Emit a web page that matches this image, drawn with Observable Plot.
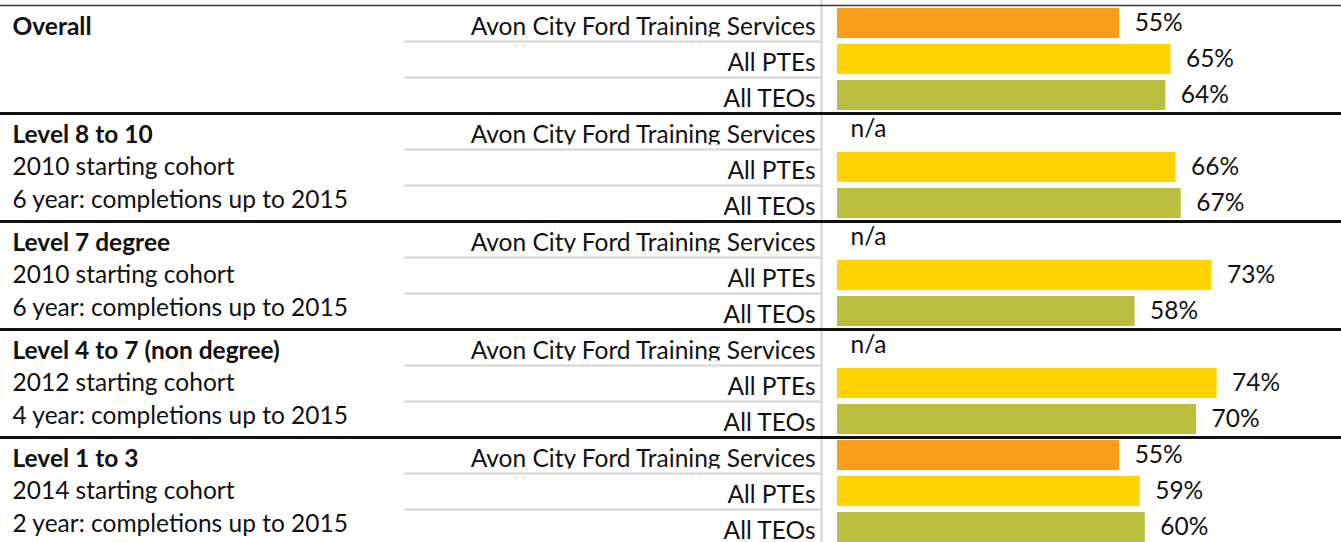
<!DOCTYPE html>
<html>
<head>
<meta charset="utf-8">
<script src="https://cdn.jsdelivr.net/npm/d3@7"></script>
<script src="https://cdn.jsdelivr.net/npm/@observablehq/plot@0.6"></script>
<style>
  html, body { margin: 0; padding: 0; background: #fff; overflow: hidden; }
  svg { display: block; }
</style>
</head>
<body>
<div id="chart"></div>
<script>
// ---- data ----
const groupTitles = ["Overall", "Level 8 to 10", "Level 7 degree", "Level 4 to 7 (non degree)", "Level 1 to 3"];
const groupCohorts = ["", "2010 starting cohort", "2010 starting cohort", "2012 starting cohort", "2014 starting cohort"];
const groupWindows = ["", "6 year: completions up to 2015", "6 year: completions up to 2015", "4 year: completions up to 2015", "2 year: completions up to 2015"];
const seriesNames = ["Avon City Ford Training Services", "All PTEs", "All TEOs"];
const providerValues = [55, null, null, null, 55];
const pteValues = [65, 66, 73, 74, 59];
const teoValues = [64, 67, 58, 70, 60];
const seriesColors = ["#F99D1C", "#FFD200", "#BBBE3F"];

// ---- table ----
const seriesValues = [providerValues, pteValues, teoValues];
const rows = [];
groupTitles.forEach((g, gi) => {
  seriesNames.forEach((s, si) => {
    rows.push({key: gi + "|" + si, gi, si, group: g, series: s, value: seriesValues[si][gi]});
  });
});
const keys = rows.map(d => d.key);
const bars = rows.filter(d => d.value != null);
const missing = rows.filter(d => d.value == null);
const firstRows = rows.filter(d => d.si === 0);
const innerRows = rows.filter(d => d.si > 0);
const secondRows = rows.filter(d => d.si === 1);
const leftLines = [groupTitles, groupCohorts, groupWindows];

const font = "Lato, 'Open Sans', sans-serif";
const fs = 24.5;

const chart = Plot.plot({
  width: 1341,
  height: 542,
  margin: 0,
  style: {fontFamily: font, background: "#fff", overflow: "visible"},
  x: {domain: [0, 100], range: [837, 1350], axis: null},
  y: {domain: keys, range: [5, 545], paddingInner: 0.17, paddingOuter: 0.085, axis: null},
  color: {domain: seriesNames, range: seriesColors},
  marks: [
    // bars
    Plot.barX(bars, {x: "value", y: "key", fill: "series"}),
    // value labels
    Plot.text(bars, {x: "value", y: "key", text: d => d.value + "%", textAnchor: "start", dx: 15, fontSize: fs, fill: "#111"}),
    Plot.text(missing, {x: () => 0, y: "key", text: () => "n/a", textAnchor: "start", dx: 13, dy: -2, fontSize: fs, fill: "#111"}),
    // category labels
    Plot.text(rows, {x: () => 0, y: "key", text: "series", textAnchor: "end", dx: -22, dy: 4, fontSize: fs, fill: "#111"}),
    // the first label cell clips its descenders
    Plot.ruleY(secondRows, {y: "key", dy: -21.5, stroke: "#fff", strokeWidth: 3, insetLeft: 404, insetRight: 522}),
    // light grey row separators in the label column
    Plot.ruleY(innerRows, {y: "key", dy: -18, stroke: "#d4d4d4", strokeWidth: 2, insetLeft: 404, insetRight: 520}),
    // vertical divider
    Plot.ruleX([0], {dx: -16, stroke: "#d4d4d4", strokeWidth: 2}),
    // group labels (left)
    Plot.text(rows.filter(d => d.si === 0), {frameAnchor: "left", y: "key", text: d => leftLines[0][d.gi], textAnchor: "start", dx: 12, dy: 4, fontSize: fs, fontWeight: "bold", fill: "#111"}),
    Plot.text(rows.filter(d => d.si === 1), {frameAnchor: "left", y: "key", text: d => leftLines[1][d.gi], textAnchor: "start", dx: 12, dy: 0, fontSize: fs, fill: "#111"}),
    Plot.text(rows.filter(d => d.si === 2), {frameAnchor: "left", y: "key", text: d => leftLines[2][d.gi], textAnchor: "start", dx: 12, dy: -3, fontSize: fs, fill: "#111"}),
    // top rule and group separators
    Plot.ruleY(firstRows.slice(0, 1), {y: "key", dy: -18, stroke: "#3a3a3a", strokeWidth: 1.5}),
    Plot.ruleY(firstRows.slice(1), {y: "key", dy: -18, stroke: "#111", strokeWidth: 3})
  ]
});
document.getElementById("chart").append(chart);
</script>
</body>
</html>
